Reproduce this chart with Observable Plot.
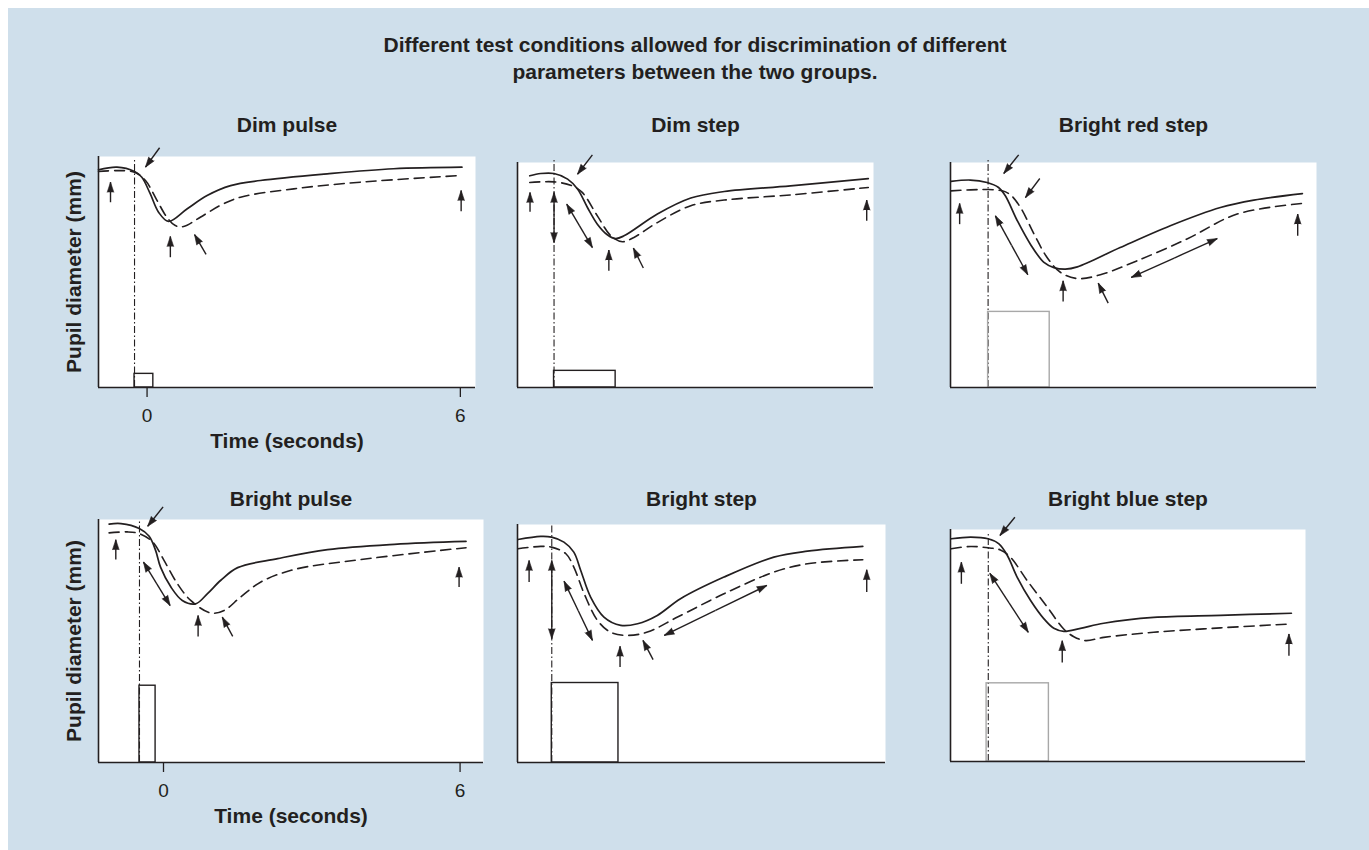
<!DOCTYPE html>
<html><head><meta charset="utf-8">
<script src="https://cdn.jsdelivr.net/npm/d3@7"></script>
<script src="https://cdn.jsdelivr.net/npm/@observablehq/plot@0.6"></script>
<style>
body{margin:0;background:#fff;font-family:"Liberation Sans",Arial,Helvetica,sans-serif;}
#bg{position:absolute;left:8px;top:8px;width:1361px;height:842px;background:#cfdfeb;}
#title{position:absolute;left:295px;width:800px;top:32px;text-align:center;font-weight:bold;font-size:21px;line-height:26.6px;color:#231f20;}
.panel{position:absolute;}
</style></head><body>
<div id="bg"></div>
<div id="title">Different test conditions allowed for discrimination of different<br>parameters between the two groups.</div>
<div id="charts"></div>
<script>
// ---------- data (time in seconds, pupil diameter in arbitrary units) ----------
const panelTitles = ["Dim pulse", "Dim step", "Bright red step", "Bright pulse", "Bright step", "Bright blue step"];
const xTicks = [0, 6];
const xLabel = "Time (seconds)";
const yLabel = "Pupil diameter (mm)";

// Dim pulse
const dimPulseSolid = [[-0.93,94.2],[-0.575,95.4],[-0.24,93.5],[-0.10,91.0],[0.06,83.9],[0.22,75.9],[0.41,71.9],[0.77,77.4],[1.15,83.1],[1.60,87.4],[2.17,89.6],[3.45,92.5],[4.72,94.7],[6.03,95.4]];
const dimPulseDashed = [[-0.93,93.5],[-0.575,93.9],[-0.24,93.2],[-0.03,89.6],[0.19,81.0],[0.38,73.7],[0.54,70.1],[0.70,69.7],[1.02,73.7],[1.40,78.8],[1.79,82.4],[2.81,86.0],[4.09,88.9],[6.03,91.8]];
const dimPulseArrows = [[-0.70,80.2,-0.70,88.9],[0.24,103.8,-0.03,95.4],[0.446,56.4,0.446,65.4],[1.13,57.6,0.91,66.2],[6.015,76.3,6.015,85.3]];
const dimPulseDoubles = [];
const dimPulseStim = [-0.24, 0.12, 5.9];
const dimPulseOnset = [-0.24, 99];
const dimPulseDomain = [-0.93, 6.29];

// Dim step
const dimStepSolid = [[-0.705,94.1],[-0.495,95.1],[-0.24,95.1],[0.02,92.6],[0.21,88.2],[0.40,80.0],[0.59,72.6],[0.78,67.9],[0.94,66.2],[1.10,67.4],[1.74,77.1],[2.38,84.2],[3.02,87.1],[4.29,89.6],[5.78,92.8]];
const dimStepDashed = [[-0.705,91.1],[-0.24,91.4],[0.11,89.6],[0.30,86.7],[0.59,76.3],[0.85,67.4],[1.07,64.8],[1.29,66.7],[1.74,73.3],[2.38,80.8],[3.02,83.3],[4.29,85.6],[5.78,88.9]];
const dimStepArrows = [[-0.70,78.1,-0.70,86.7],[0.495,103.4,0.21,94.8],[0.81,51.9,0.81,61.1],[1.47,53.1,1.28,62.0],[5.75,74.1,5.75,83.3]];
const dimStepDoubles = [[-0.24,86.7,-0.24,64.4],[0.003,81.5,0.495,62.2]];
const dimStepStim = [-0.24, 0.94, 7.4];
const dimStepOnset = [-0.24, 101.5];
const dimStepDomain = [-0.94, 5.88];

// Bright red step
const redStepSolid = [[-0.95,91.6],[-0.58,92.2],[-0.26,91.1],[-0.04,88.9],[0.09,85.2],[0.32,74.1],[0.57,63.7],[0.83,55.6],[1.02,53.3],[1.24,52.6],[1.47,53.6],[2.29,62.2],[3.25,71.9],[4.21,80.0],[4.85,83.3],[5.78,86.2]];
const redStepDashed = [[-0.95,87.4],[-0.26,88.0],[0.03,87.4],[0.19,85.6],[0.38,80.0],[0.64,68.2],[0.89,57.8],[1.15,51.1],[1.47,48.4],[1.91,50.1],[2.61,56.3],[3.57,66.0],[4.53,77.1],[5.78,81.8]];
const redStepArrows = [[-0.785,72.6,-0.785,81.8],[0.346,103.4,0.06,95.1],[0.75,92.9,0.475,84.4],[1.197,38.2,1.197,47.4],[2.06,37.5,1.87,46.4],[5.69,67.4,5.69,77.1]];
const redStepDoubles = [[-0.10,76.3,0.52,50.1],[2.50,48.9,4.15,66.2]];
const redStepStim = [-0.24, 0.94, 33.6];
const redStepOnset = [-0.24, 101.5];
const redStepDomain = [-0.96, 6.05];

// Bright pulse
const brightPulseSolid = [[-1.10,98.1],[-0.86,98.3],[-0.49,96.3],[-0.29,93.1],[-0.16,87.3],[-0.06,80.4],[0.15,72.2],[0.38,66.7],[0.65,65.3],[0.89,69.5],[1.16,75.0],[1.50,80.2],[2.31,83.9],[3.32,87.6],[4.67,89.8],[6.12,91.0]];
const brightPulseDashed = [[-1.10,94.5],[-0.73,94.9],[-0.49,94.2],[-0.22,90.8],[0.01,83.2],[0.28,73.6],[0.55,66.7],[0.96,61.5],[1.23,62.6],[1.56,68.1],[1.97,74.3],[2.64,79.4],[3.99,83.5],[6.12,88.4]];
const brightPulseArrows = [[-0.965,83.5,-0.965,91.7],[-0.008,105.2,-0.32,97.2],[0.70,51.9,0.70,60.5],[1.40,51.9,1.19,59.8],[5.98,72.2,5.98,80.4]];
const brightPulseDoubles = [[-0.405,82.5,0.134,64.6]];
const brightPulseStim = [-0.486, -0.16, 31.6];
const brightPulseOnset = [-0.486, 99];
const brightPulseDomain = [-1.315, 6.474];

// Bright step
const brightStepSolid = [[-1.17,93.7],[-0.71,95.0],[-0.49,94.7],[-0.24,92.6],[-0.04,88.4],[0.10,80.7],[0.30,69.5],[0.57,61.1],[0.91,57.6],[1.25,58.3],[1.65,61.8],[2.12,68.8],[3.0,77.9],[4.01,86.3],[4.69,88.8],[5.81,90.8]];
const brightStepDashed = [[-1.17,89.8],[-0.71,90.8],[-0.49,90.5],[-0.20,87.7],[-0.04,82.1],[0.17,70.9],[0.44,59.7],[0.70,54.8],[1.05,53.4],[1.45,54.8],[2.06,61.1],[3.0,70.9],[4.01,80.0],[4.69,83.5],[5.81,85.2]];
const brightStepArrows = [[-0.945,75.8,-0.945,84.9],[0.896,40.1,0.896,48.8],[1.565,43.2,1.36,51.3],[5.89,71.6,5.89,81.0]];
const brightStepDoubles = [[-0.486,84.9,-0.486,52.0],[-0.237,76.2,0.337,51.3],[1.79,53.4,3.87,74.4]];
const brightStepStim = [-0.486, 0.864, 33.4];
const brightStepOnset = [-0.486, 100];
const brightStepDomain = [-1.18, 6.27];

// Bright blue step
const blueStepSolid = [[-1.235,96.0],[-0.84,96.7],[-0.49,96.0],[-0.27,93.8],[-0.10,88.8],[0.10,79.4],[0.37,69.4],[0.64,61.5],[0.84,57.4],[1.04,56.1],[1.38,57.4],[1.85,59.6],[2.86,62.1],[4.21,63.0],[5.645,63.9]];
const blueStepDashed = [[-1.235,91.7],[-0.84,92.7],[-0.49,92.1],[-0.24,91.2],[-0.035,88.0],[0.30,78.0],[0.71,66.5],[1.04,57.1],[1.245,53.8],[1.48,52.1],[1.85,53.5],[2.86,55.7],[4.21,57.6],[5.645,59.3]];
const blueStepArrows = [[-1.03,76.6,-1.03,85.9],[0.052,105.3,-0.25,97.4],[1.01,42.7,1.01,52.1],[5.595,45.6,5.595,55.0]];
const blueStepDoubles = [[-0.454,81.1,0.323,55.7]];
const blueStepStim = [-0.52, 0.74, 33.7];
const blueStepOnset = [-0.486, 98.8];
const blueStepDomain = [-1.25, 5.93];

// ---------- layout (pixels) ----------
const ink = "#231f20";
const panels = [
  {title: panelTitles[0], solid: dimPulseSolid, dashed: dimPulseDashed, arrows: dimPulseArrows, doubles: dimPulseDoubles, stim: dimPulseStim, onset: dimPulseOnset, domain: dimPulseDomain, box: [98,156,377,231], titleBase: 131.7, showX: true, showY: true, stimColor: ink},
  {title: panelTitles[1], solid: dimStepSolid, dashed: dimStepDashed, arrows: dimStepArrows, doubles: dimStepDoubles, stim: dimStepStim, onset: dimStepOnset, domain: dimStepDomain, box: [517,162,356,225], titleBase: 131.7, showX: false, showY: false, stimColor: ink},
  {title: panelTitles[2], solid: redStepSolid, dashed: redStepDashed, arrows: redStepArrows, doubles: redStepDoubles, stim: redStepStim, onset: redStepOnset, domain: redStepDomain, box: [950,162,366,225], titleBase: 131.7, showX: false, showY: false, stimColor: "#a8a8a8"},
  {title: panelTitles[3], solid: brightPulseSolid, dashed: brightPulseDashed, arrows: brightPulseArrows, doubles: brightPulseDoubles, stim: brightPulseStim, onset: brightPulseOnset, domain: brightPulseDomain, box: [98,519,385,243], titleBase: 505, showX: true, showY: true, stimColor: ink},
  {title: panelTitles[4], solid: brightStepSolid, dashed: brightStepDashed, arrows: brightStepArrows, doubles: brightStepDoubles, stim: brightStepStim, onset: brightStepOnset, domain: brightStepDomain, box: [517,524,368,238], titleBase: 505, showX: false, showY: false, stimColor: ink},
  {title: panelTitles[5], solid: blueStepSolid, dashed: blueStepDashed, arrows: blueStepArrows, doubles: blueStepDoubles, stim: blueStepStim, onset: blueStepOnset, domain: blueStepDomain, box: [950,529,355,232], titleBase: 505, showX: false, showY: false, stimColor: "#a8a8a8"}
];

const mL = 50, mR = 20, mT = 50, mB = 75;
const container = document.getElementById("charts");

for (const p of panels) {
  const [L, T, W, H] = p.box;
  const kx = W / (p.domain[1] - p.domain[0]); // px per second
  const ky = H / 100;                          // px per unit
  // double-headed arrows: two single arrows from the midpoint outward
  const arrowData = [...p.arrows];
  for (const [a, b, c, d] of p.doubles) {
    const m = [(a + c) / 2, (b + d) / 2];
    arrowData.push([m[0], m[1], a, b], [m[0], m[1], c, d]);
  }
  // on-screen direction of each arrow (degrees clockwise from up)
  const heading = d => Math.atan2((d[2] - d[0]) * kx, (d[3] - d[1]) * ky) * 180 / Math.PI;
  const marks = [
    Plot.frame({fill: "white", stroke: null}),
    Plot.ruleX([p.onset], {x: d => d[0], y1: 0, y2: d => d[1], stroke: ink, strokeWidth: 1.1, strokeDasharray: "7,2.5,1.5,2.5"}),
    Plot.rect([p.stim], {x1: d => d[0], x2: d => d[1], y1: 0, y2: d => d[2], fill: "none", stroke: p.stimColor, strokeWidth: 1.4}),
    Plot.line(p.solid, {x: d => d[0], y: d => d[1], curve: "catmull-rom", stroke: ink, strokeWidth: 1.7}),
    Plot.line(p.dashed, {x: d => d[0], y: d => d[1], curve: "catmull-rom", stroke: ink, strokeWidth: 1.6, strokeDasharray: "10,6"}),
    Plot.link(arrowData, {x1: d => d[0], y1: d => d[1], x2: d => d[2], y2: d => d[3], stroke: ink, strokeWidth: 1.4}),
    Plot.vector(arrowData, {x: d => d[2], y: d => d[3], rotate: heading, length: 10, r: 3.3, shape: "spike", anchor: "end", fill: ink, stroke: ink, strokeWidth: 0.6}),
    Plot.ruleX([p.domain[0]], {stroke: ink, strokeWidth: 1.6}),
    Plot.ruleY([0], {stroke: ink, strokeWidth: 1.6}),
    Plot.text([p.title], {text: d => d, frameAnchor: "top", lineAnchor: "bottom", dy: p.titleBase - T, fontSize: 21, fontWeight: "bold", fill: ink})
  ];
  if (p.showX) {
    marks.push(Plot.axisX({ticks: xTicks, tickSize: 10, tickFormat: () => "", label: null, stroke: ink, strokeWidth: 1.3}));
    marks.push(Plot.text(xTicks, {x: d => d, text: d => String(d), frameAnchor: "bottom", lineAnchor: "top", dy: 21, fontSize: 19, fill: ink}));
    marks.push(Plot.text([xLabel], {text: d => d, frameAnchor: "bottom", lineAnchor: "top", dy: 45.5, fontSize: 21, fontWeight: "bold", fill: ink}));
  }
  if (p.showY) {
    marks.push(Plot.text([yLabel], {text: d => d, frameAnchor: "left", textAnchor: "middle", lineAnchor: "middle", rotate: -90, dx: -24.7, fontSize: 21, fontWeight: "bold", fill: ink}));
  }
  const chart = Plot.plot({
    width: W + mL + mR,
    height: H + mT + mB,
    marginLeft: mL, marginRight: mR, marginTop: mT, marginBottom: mB,
    x: {domain: p.domain, axis: null},
    y: {domain: [0, 100], axis: null},
    style: {background: "transparent", overflow: "visible", fontFamily: "'Liberation Sans', Arial, Helvetica, sans-serif", color: ink},
    marks
  });
  const wrap = document.createElement("div");
  wrap.className = "panel";
  wrap.style.left = (L - mL) + "px";
  wrap.style.top = (T - mT) + "px";
  wrap.appendChild(chart);
  container.appendChild(wrap);
}
</script>
</body></html>
